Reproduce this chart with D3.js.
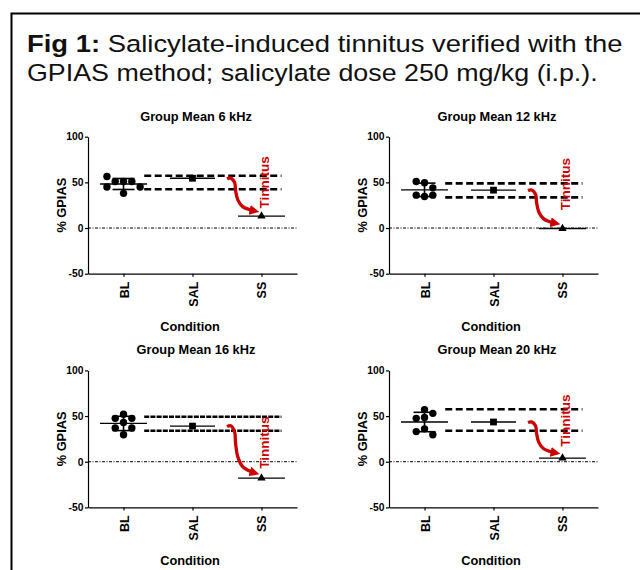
<!DOCTYPE html>
<html><head><meta charset="utf-8">
<script src="https://cdn.jsdelivr.net/npm/d3@7"></script>
<style>body{margin:0;background:#fff} svg{display:block}</style>
</head><body>
<svg id="chart" width="640" height="570"></svg>
<script>
// ---- data ----
const panelTitles = ["Group Mean 6 kHz", "Group Mean 12 kHz", "Group Mean 16 kHz", "Group Mean 20 kHz"];
const conditions = ["BL", "SAL", "SS"];
const blValues = [
  [51, 51, 51, 56.5, 45, 45, 38],
  [49.5, 51, 44, 34.5, 36, 36],
  [52, 47.5, 47.5, 43, 37, 37, 29.5],
  [57, 48.5, 47.5, 53, 36, 33, 29.5]
];
const salValues = [54.5, 41.5, 39, 43.5];
const ssValues = [13, -0.5, -18, 4];
const bandUpper = [57.3, 48.9, 49.3, 57.4];
const bandLower = [42.4, 33.6, 34, 34];
const tinnitusLabelY = [50, 48, 21, 45];
const yTicks = [-50, 0, 50, 100];
const annotationText = "Tinnitus";
const yLabel = "% GPIAS";
const xLabel = "Condition";

// ---- drawing ----
const FONT = "'Liberation Sans', Arial, Helvetica, sans-serif";
const RED = "#cc0000";
const svg = d3.select("#chart");

svg.append("rect").attr("x", 11.5).attr("y", 13.5).attr("width", 700).attr("height", 700)
  .attr("fill", "none").attr("stroke", "#000").attr("stroke-width", 2);

function titleLine(yPos, parts, targetW) {
  const t = svg.append("text").attr("font-family", FONT).attr("font-size", 23.5).attr("fill", "#111");
  parts.forEach(p => t.append("tspan").attr("font-weight", p.b ? "bold" : "normal").text(p.t));
  const w = t.node().getComputedTextLength();
  t.attr("transform", `translate(27,${yPos}) scale(${targetW / w},1)`);
}
titleLine(52, [{t: "Fig 1:", b: 1}, {t: " Salicylate-induced tinnitus verified with the"}], 596);
titleLine(80.5, [{t: "GPIAS method; salicylate dose 250 mg/kg (i.p.)."}], 571);

const defs = svg.append("defs");
defs.append("marker").attr("id", "arrowhead").attr("viewBox", "0 0 10 10")
  .attr("refX", 6).attr("refY", 5).attr("markerWidth", 3).attr("markerHeight", 3)
  .attr("orient", "auto").attr("markerUnits", "strokeWidth")
  .append("path").attr("d", "M0,0 L10,5 L0,10 z").attr("fill", RED);

const colX = [88, 389], rowY = [136.7, 370.4];
const PW = 209, PH = 137;
const dashStyles = ["7,3.5", "7,3.5", "5,1.2", "7,3.5"];

function swarm(vals, y, slotW, thr) {
  const placed = [];
  const cands = [0, -1, 1, -2, 2, -3, 3];
  return vals.map(v => {
    const py = y(v);
    for (const c of cands) {
      if (!placed.some(p => p.c === c && Math.abs(p.py - py) < thr)) {
        placed.push({c, py});
        return {v, py, dx: c * slotW};
      }
    }
    return {v, py, dx: 0};
  });
}

panelTitles.forEach((ttl, i) => {
  const g = svg.append("g").attr("transform", `translate(${colX[i % 2]},${rowY[Math.floor(i / 2)]})`);
  const x = d3.scalePoint().domain(conditions).range([0, PW]).padding(0.515);
  const y = d3.scaleLinear().domain([-50, 100]).range([PH, 0]);
  const step = x.step();

  // title
  g.append("text").attr("x", 108).attr("y", -16).attr("text-anchor", "middle")
    .attr("font-family", FONT).attr("font-weight", "bold").attr("font-size", 12.8).text(ttl);

  // zero line
  g.append("line").attr("x1", 0).attr("x2", PW).attr("y1", y(0)).attr("y2", y(0))
    .attr("stroke", "#000").attr("stroke-width", 1).attr("stroke-dasharray", "3,1.5,1,1.5");

  // dashed band lines
  [bandUpper[i], bandLower[i]].forEach(v => {
    g.append("line").attr("x1", x("BL") + 0.3 * step).attr("x2", x("SS") + 0.29 * step)
      .attr("y1", y(v)).attr("y2", y(v)).attr("stroke", "#000").attr("stroke-width", 2.6)
      .attr("stroke-dasharray", dashStyles[i]);
  });

  // BL: mean +/- SD
  const bl = blValues[i];
  const m = d3.mean(bl), sd = d3.deviation(bl);
  const bx = x("BL");
  g.append("line").attr("x1", bx - 23.5).attr("x2", bx + 23.5).attr("y1", y(m)).attr("y2", y(m))
    .attr("stroke", "#000").attr("stroke-width", 1.3);
  g.append("line").attr("x1", bx).attr("x2", bx).attr("y1", y(m - sd)).attr("y2", y(m + sd))
    .attr("stroke", "#000").attr("stroke-width", 1.6);
  [m - sd, m + sd].forEach(v => g.append("line").attr("x1", bx - 11).attr("x2", bx + 11)
    .attr("y1", y(v)).attr("y2", y(v)).attr("stroke", "#000").attr("stroke-width", 1.6));
  swarm(bl, y, 8.3, 7).forEach(p => {
    g.append("circle").attr("cx", bx + p.dx).attr("cy", p.py).attr("r", 3.7).attr("fill", "#000");
  });

  // SAL
  const sx = x("SAL");
  g.append("line").attr("x1", sx - 22.5).attr("x2", sx + 22.5).attr("y1", y(salValues[i])).attr("y2", y(salValues[i]))
    .attr("stroke", "#000").attr("stroke-width", 1.3);
  g.append("path").attr("d", d3.symbol(d3.symbolSquare, 46)())
    .attr("transform", `translate(${sx},${y(salValues[i])})`).attr("fill", "#000");

  // SS
  const ssx = x("SS");
  g.append("line").attr("x1", ssx - 23.5).attr("x2", ssx + 23.5).attr("y1", y(ssValues[i])).attr("y2", y(ssValues[i]))
    .attr("stroke", "#000").attr("stroke-width", 1.3);
  g.append("path").attr("d", d3.symbol(d3.symbolTriangle, 30)())
    .attr("transform", `translate(${ssx},${y(ssValues[i])})`).attr("fill", "#000");

  // arrow
  const S = [sx + 0.5 * step, y(salValues[i]) + 0.5];
  const E = [ssx - 6, y(ssValues[i]) - 5];
  const dx = E[0] - S[0], dy = E[1] - S[1];
  const fr = [[0, 0], [0.13, -0.02], [0.27, 0.12], [0.3, 0.35], [0.38, 0.65], [0.55, 0.86], [0.78, 0.95], [1, 1]];
  const pts = fr.map(f => [S[0] + f[0] * dx, S[1] + f[1] * dy]);
  g.append("path").attr("d", d3.line().curve(d3.curveCatmullRom)(pts))
    .attr("fill", "none").attr("stroke", RED).attr("stroke-width", 3.3)
    .attr("marker-end", "url(#arrowhead)");

  // Tinnitus label
  g.append("text").attr("transform", `translate(${ssx + 2.5},${y(tinnitusLabelY[i])}) rotate(-90)`)
    .attr("text-anchor", "middle").attr("dy", "0.36em")
    .attr("font-family", FONT).attr("font-weight", "bold").attr("font-size", 13.5).attr("fill", RED)
    .text(annotationText);

  // axes
  const ya = g.append("g").call(d3.axisLeft(y).tickValues(yTicks).tickFormat(d => String(d))
    .tickSize(3).tickSizeOuter(0).tickPadding(1.5));
  ya.selectAll("text").attr("font-family", FONT).attr("font-weight", "bold").attr("font-size", 10.3).attr("fill", "#000");
  const xa = g.append("g").attr("transform", `translate(0,${PH})`)
    .call(d3.axisBottom(x).tickSize(3).tickSizeOuter(0));
  xa.selectAll("text").attr("transform", "rotate(-90)").attr("x", -8).attr("y", 0).attr("dy", "0.36em")
    .attr("text-anchor", "end").attr("font-family", FONT).attr("font-weight", "bold").attr("font-size", 12.5).attr("fill", "#000");
  [ya, xa].forEach(a => { a.selectAll("path,line").attr("stroke", "#000").attr("stroke-width", 1.2); });

  // axis labels
  g.append("text").attr("transform", `translate(-22,${PH / 2}) rotate(-90)`).attr("text-anchor", "middle")
    .attr("font-family", FONT).attr("font-weight", "bold").attr("font-size", 12.8).text(yLabel);
  g.append("text").attr("x", 102).attr("y", 194.5).attr("text-anchor", "middle")
    .attr("font-family", FONT).attr("font-weight", "bold").attr("font-size", 12.8).text(xLabel);
});
</script>
</body></html>
